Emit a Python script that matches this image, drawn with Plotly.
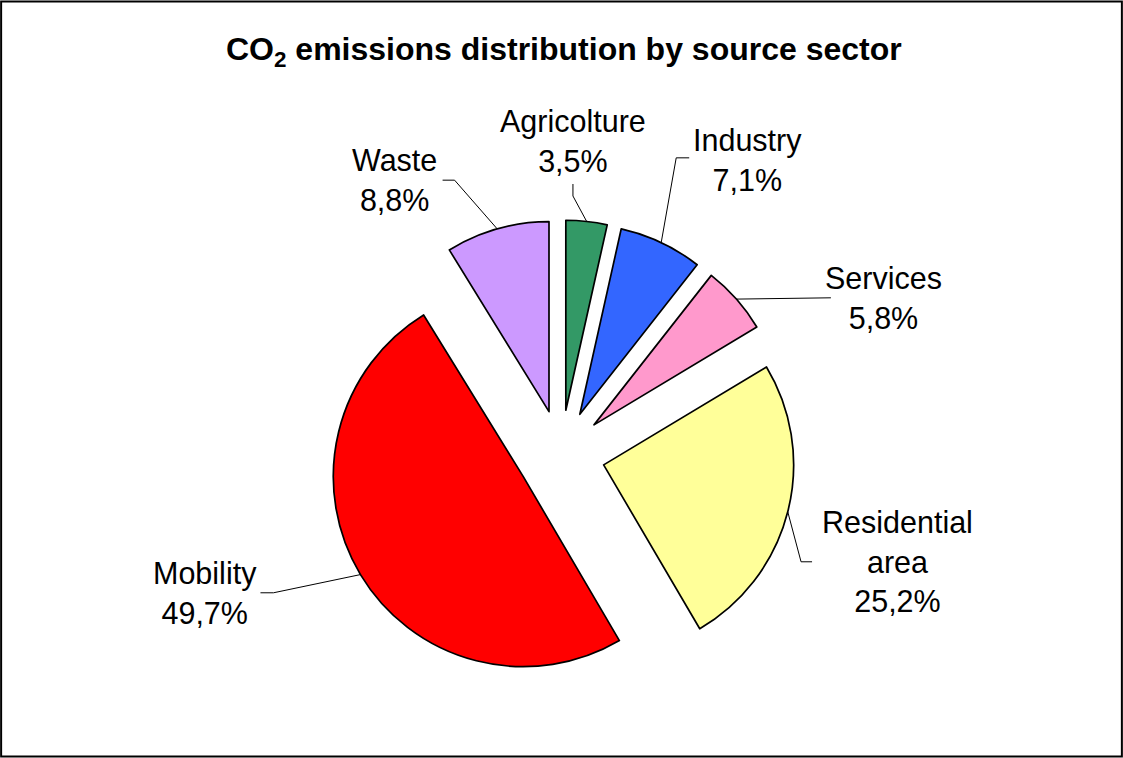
import math
import plotly.graph_objects as go

# ---- data ----
sectors = ["Agricolture", "Industry", "Services", "Residential area", "Mobility", "Waste"]
label_text = ["Agricolture", "Industry", "Services", "Residential<br>area", "Mobility", "Waste"]
shares = [3.5, 7.1, 5.8, 25.2, 49.7, 8.8]
colors = ["#339966", "#3366FF", "#FF99CC", "#FFFF99", "#FF0000", "#CC99FF"]
title_text = "<b>CO<sub>2</sub> emissions distribution by source sector</b>"

# ---- layout / style ----
W, H = 1123, 758
CX, CY = 561, 454          # pie centre (px, from top-left)
R = 190                    # slice radius (px)
PULL = 0.2316              # explode fraction
FONT = "Liberation Sans, Arial, sans-serif"

# label placement relative to the leader anchor (px): elbow, end, label centre
label_style = [
    dict(elbow=(-13.7, -25.4), end=(-13.7, -37.4), text=(-13.7, -80)),   # Agricolture
    dict(elbow=(15, -84.7), end=(28, -84.7), text=(86, -83)),            # Industry
    dict(elbow=(94.5, -1.3), end=(94.5, -1.3), text=(147.5, -1.3)),      # Services
    dict(elbow=(13.3, 50), end=(24.3, 50), text=(109.3, 50)),            # Residential
    dict(elbow=(-87, 18.2), end=(-100, 18.2), text=(-155, 18.2)),        # Mobility
    dict(elbow=(-42.6, -48.7), end=(-54.6, -48.7), text=(-102.6, -48.7)),  # Waste
]

half = R * (1 + PULL)
domain_x = [(CX - half) / W, (CX + half) / W]
domain_y = [1 - (CY + half) / H, 1 - (CY - half) / H]


def px2paper(x, y):
    return x / W, 1 - y / H


fig = go.Figure(go.Pie(
    labels=sectors,
    values=shares,
    sort=False,
    direction="clockwise",
    rotation=0,
    pull=[PULL] * len(shares),
    marker=dict(colors=colors, line=dict(color="black", width=1.7)),
    textinfo="none",
    hoverinfo="label+percent",
    showlegend=False,
    domain=dict(x=domain_x, y=domain_y),
))

shapes = []
annotations = []
total = sum(shares)
cum = 0.0
for name, val, st in zip(label_text, shares, label_style):
    mid = (cum + val / 2) / total * 2 * math.pi
    cum += val
    ax = CX + half * math.sin(mid)
    ay = CY - half * math.cos(mid)
    ex, ey = ax + st["elbow"][0], ay + st["elbow"][1]
    nx, ny = ax + st["end"][0], ay + st["end"][1]
    p0 = px2paper(ax, ay)
    p1 = px2paper(ex, ey)
    p2 = px2paper(nx, ny)
    path = f"M {p0[0]},{p0[1]} L {p1[0]},{p1[1]} L {p2[0]},{p2[1]}"
    shapes.append(dict(type="path", xref="paper", yref="paper", path=path,
                       line=dict(color="black", width=1)))
    tx, ty = px2paper(ax + st["text"][0], ay + st["text"][1])
    val_str = f"{val:.1f}".replace(".", ",") + "%"
    annotations.append(dict(
        x=tx, y=ty, xref="paper", yref="paper", xanchor="center", yanchor="middle",
        text=f"{name}<br>{val_str}", showarrow=False, align="center",
        font=dict(family=FONT, size=30.5, color="black"),
    ))

annotations.append(dict(
    x=564 / W, y=1 - 51 / H, xref="paper", yref="paper", xanchor="center", yanchor="middle",
    text=title_text, showarrow=False, font=dict(family=FONT, size=32, color="black"),
))

# chart border
shapes.append(dict(type="rect", xref="paper", yref="paper", x0=0.001, y0=0.002, x1=0.999, y1=0.998,
                   line=dict(color="black", width=2)))

fig.update_layout(
    width=W, height=H,
    margin=dict(l=0, r=0, t=0, b=0),
    paper_bgcolor="white", plot_bgcolor="white",
    separators=",.",
    shapes=shapes,
    annotations=annotations,
)

fig.write_html("out.html")
